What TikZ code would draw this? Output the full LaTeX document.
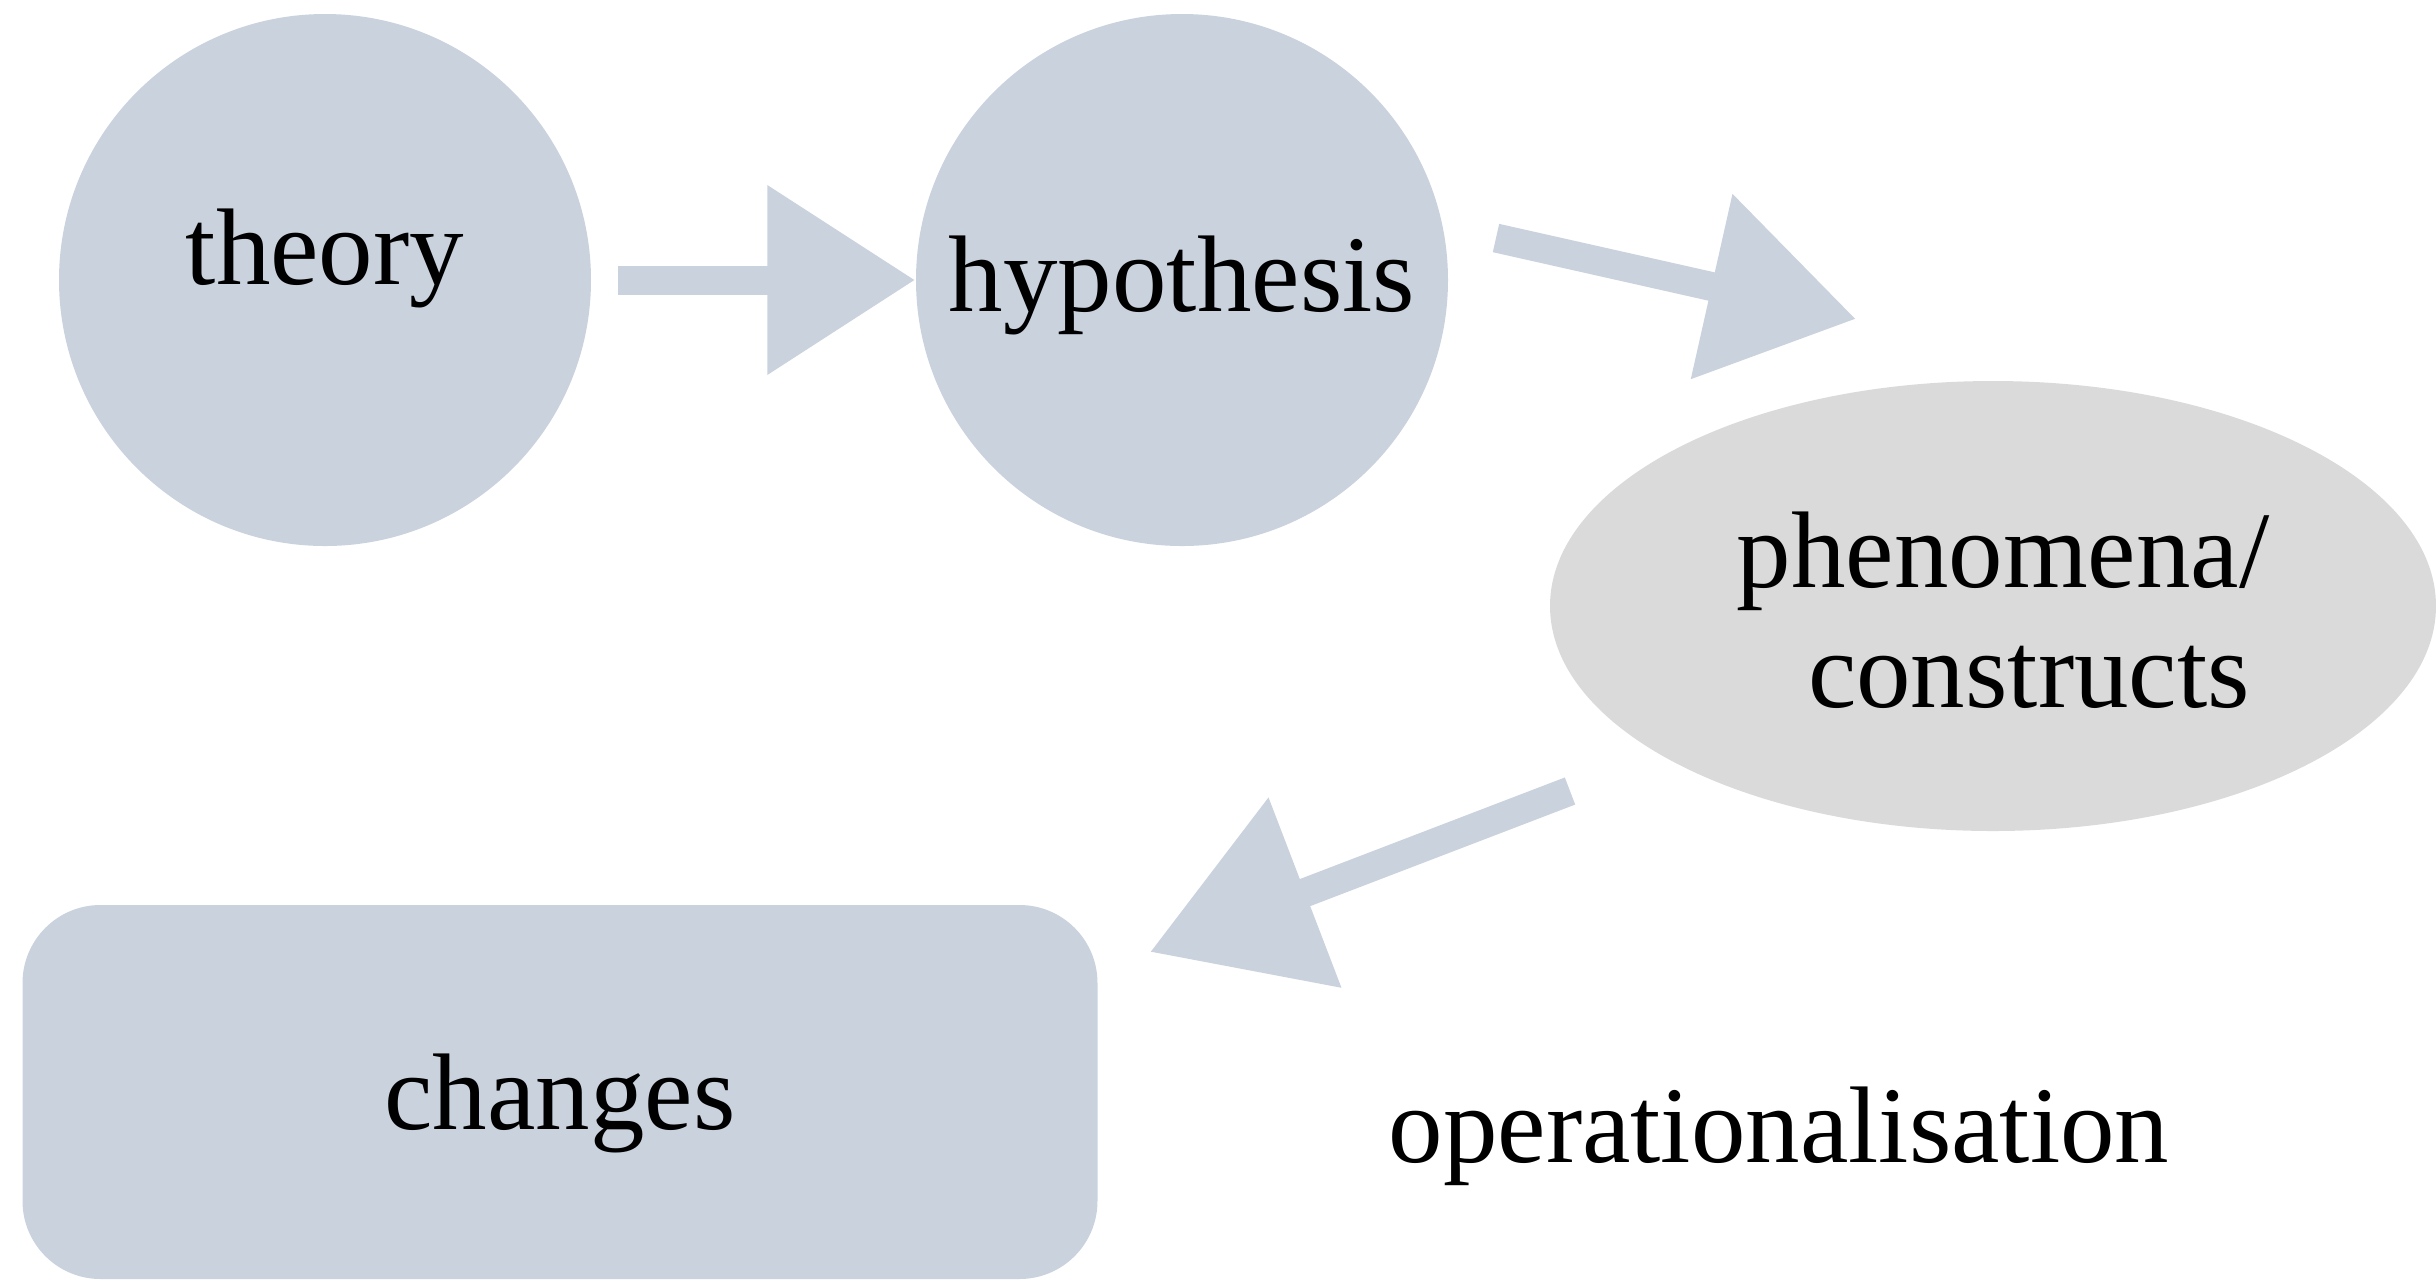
\documentclass[tikz,border=0pt]{standalone}
\usepackage{fontspec}
\setmainfont{Liberation Serif}
\usetikzlibrary{arrows.meta,shapes.geometric}

\begin{document}
\begin{tikzpicture}[x=0.1mm, y=-0.1mm, % one unit is one pixel of the sketch, y runs down
        bubble/.style={circle, fill=bluegray, minimum size=53.2mm, inner sep=0pt},
        blob/.style={ellipse, fill=softgray, minimum width=88.6mm, minimum height=45mm, inner sep=0pt},
        card/.style={rectangle, rounded corners=7.8mm, fill=bluegray, minimum width=107.5mm, minimum height=37.4mm, inner sep=0pt},
        word/.style={font=\fontsize{31}{36}\selectfont, anchor=base, inner sep=0pt},
        flow/.style={line width=2.9mm, draw=bluegray, -{Triangle[length=14.8mm, width=18.2mm]}}]
            % Define colors
            \definecolor{bluegray}{RGB}{201,210,221}
            \definecolor{softgray}{RGB}{218,218,218}

            \useasboundingbox (0,0) rectangle (2436,1282);

            % Shapes
            \node[bubble] (theory) at (325,280) {};
            \node[bubble] (hypothesis) at (1182,280) {};
            \node[blob] (phenomena) at (1993,606) {};
            \node[card] (changes) at (560,1092) {};

            % Texts
            \node[word] (theory-txt) at (325,284) {theory};
            \node[word] (hypothesis-txt) at (1182,311) {hypothesis};
            \node[word] (phenomena-txt) at (2003,587) {phenomena/};
            \node[word] (constructs-txt) at (2029,707) {constructs};
            \node[word] (changes-txt) at (560,1129) {changes};
            \node[word] (operational-txt) at (1779,1162) {operationalisation};

            % Free ends of the arrows
            \coordinate (hyp-out) at (1496,238);
            \coordinate (phen-in) at (1856,319);
            \coordinate (phen-out) at (1570,791);
            \coordinate (chg-in) at (1150,952);

            % Arrows
            \draw[flow, shorten <=2.6mm] (theory) -- (hypothesis);
            \draw[flow] (hyp-out) -- (phen-in);
            \draw[flow, -{Triangle[length=16.6mm, width=19.6mm]}] (phen-out) -- (chg-in);

        \end{tikzpicture}
\end{document}
